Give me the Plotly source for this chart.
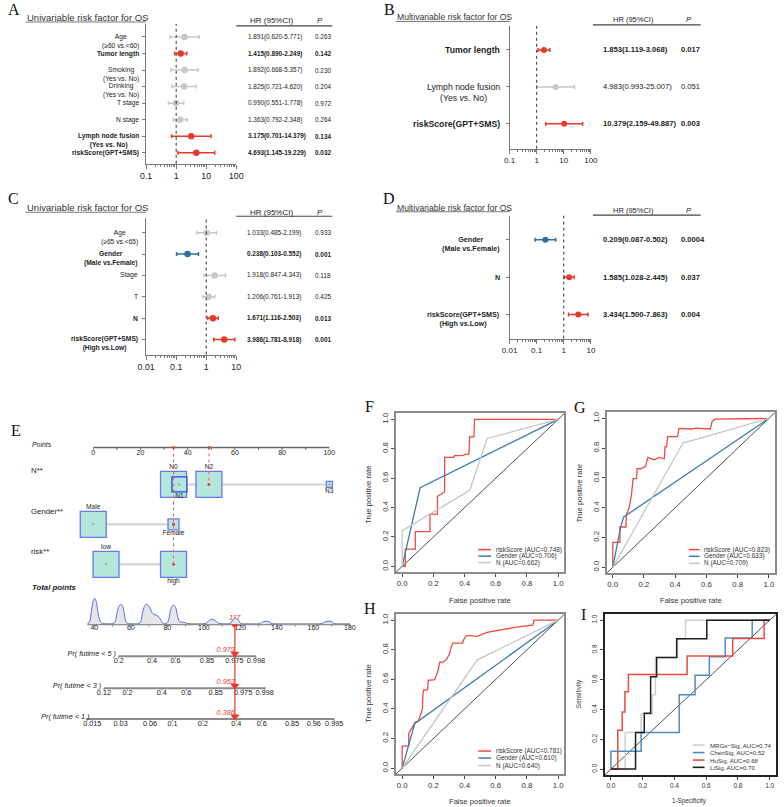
import math
import plotly.graph_objects as go

W, H = 784, 807
SANS = "Arial, Liberation Sans, Helvetica, sans-serif"
SERIF = "Times New Roman, Liberation Serif, Times, serif"

# ====================== DATA ======================
# Panel A - univariable (cohort 1)
A_labels = ["Age", "Tumor length", "Smoking", "Drinking", "T stage", "N stage",
            "Lymph node fusion", "riskScore(GPT+SMS)"]
A_sub = ["(≥60 vs.<60)", "", "(Yes vs. No)", "(Yes vs. No)", "", "", "(Yes vs. No)", ""]
A_hr = [1.891, 1.415, 1.892, 1.825, 0.990, 1.363, 3.175, 4.693]
A_lo = [0.620, 0.890, 0.668, 0.721, 0.551, 0.792, 0.701, 1.145]
A_hi = [5.771, 2.249, 5.357, 4.620, 1.778, 2.348, 14.379, 19.229]
A_p = ["0.263", "0.142", "0.230", "0.204", "0.972", "0.264", "0.134", "0.032"]
A_kind = ["gray", "red", "gray", "gray", "gray", "gray", "red", "red"]
A_ticks = [0.1, 1, 10, 100]

# Panel B - multivariable (cohort 1)
B_labels = ["Tumor length", "Lymph node fusion", "riskScore(GPT+SMS)"]
B_sub = ["", "(Yes <i>vs.</i> No)", ""]
B_hr = [1.853, 4.983, 10.379]
B_lo = [1.119, 0.993, 2.159]
B_hi = [3.068, 25.007, 49.887]
B_p = ["0.017", "0.051", "0.003"]
B_kind = ["red", "gray", "red"]
B_ticks = [0.1, 1, 10, 100]

# Panel C - univariable (cohort 2)
C_labels = ["Age", "Gender", "Stage", "T", "N", "riskScore(GPT+SMS)"]
C_sub = ["(≥65 vs.<65)", "(Male vs.Female)", "", "", "", "(High vs.Low)"]
C_hr = [1.033, 0.238, 1.918, 1.206, 1.671, 3.986]
C_lo = [0.485, 0.103, 0.847, 0.761, 1.116, 1.781]
C_hi = [2.199, 0.552, 4.343, 1.913, 2.503, 8.918]
C_p = ["0.933", "0.001", "0.118", "0.425", "0.013", "0.001"]
C_kind = ["gray", "blue", "gray", "gray", "red", "red"]
C_ticks = [0.01, 0.1, 1, 10]

# Panel D - multivariable (cohort 2)
D_labels = ["Gender", "N", "riskScore(GPT+SMS)"]
D_sub = ["(Male vs.Female)", "", "(High vs.Low)"]
D_hr = [0.209, 1.585, 3.434]
D_lo = [0.087, 1.028, 1.500]
D_hi = [0.502, 2.445, 7.863]
D_p = ["0.0004", "0.037", "0.004"]
D_kind = ["blue", "red", "red"]
D_ticks = [0.01, 0.1, 1, 10]

# Panel E - nomogram
PTS_ticks = [0, 10, 20, 30, 40, 50, 60, 70, 80, 90, 100]
PTS_labels = ["0", "", "20", "", "40", "", "60", "", "80", "", "100"]
N_levels = ["N0", "N1", "N2", "N3"]
N_points = [34.0, 36.5, 49.0, 100.0]
G_levels = ["Male", "Female"]
G_points = [0.0, 34.0]
R_levels = ["low", "high"]
R_points = [5.4, 34.0]
SELECTED = ["N2", "Female", "high"]
TOT_ticks = [40, 50, 60, 70, 80, 90, 100, 110, 120, 130, 140, 150, 160, 170, 180]
TOT_labels = ["40", "", "60", "", "80", "", "100", "", "120", "", "140", "", "160", "", "180"]
TOT_axis = [36.2, 180]
DEN_X = [36.5, 37.5, 38.5, 39.5, 40.2, 41, 42, 43, 44.5, 46, 50, 51.5, 52.5, 53.5, 54.5, 55.5,
         56.5, 57.5, 59, 64, 65.5, 66.5, 67.5, 68.5, 69.5, 70.5, 71.5, 72.5, 74, 75.5, 76.5,
         77.5, 79, 80.5, 81.5, 82.5, 83.5, 84.5, 85.5, 86.5, 88, 90, 92, 100, 102, 104, 106,
         108, 110, 114, 115.5, 117, 118.5, 120, 121, 130, 132, 134, 136, 138, 164, 166, 168,
         170, 172, 180]
DEN_H = [0, 3, 14, 24, 26, 23, 12, 4, 0.5, 0, 0, 3, 12, 18, 20, 18,
         10, 2, 0, 0, 3, 12, 18, 20, 19, 16, 12, 10, 9, 7, 4,
         1, 0, 3, 12, 18, 19, 17, 9, 3, 2, 1.5, 0, 0, 2, 5, 4,
         1, 0, 0, 3, 6, 5, 1, 0, 0, 2, 3, 2, 0, 0, 2, 3,
         2.5, 0, 0]
P5_labels = ["0.2", "0.4", "0.6", "0.85", "0.975", "0.998"]
P5_pos = [53.4, 71.6, 84.5, 101.7, 116.7, 128.5]
P3_labels = ["0.12", "0.2", "0.4", "0.6", "0.85", "0.975", "0.998"]
P3_pos = [45.3, 58.2, 77.0, 90.4, 106.5, 121.5, 133.3]
P1_labels = ["0.015", "0.03", "0.06", "0.1", "0.2", "0.4", "0.6", "0.85", "0.96", "0.995"]
P1_pos = [38.9, 54.4, 70.5, 82.9, 99.5, 117.8, 131.7, 148.3, 160.2, 171.4]
P_axis_start = [53.4, 45.3, 35.5]
P_axis_end = [128.5, 133.9, 171.4]
P_names = ["Pr( futime < 5 )", "Pr( futime < 3 )", "Pr( futime < 1 )"]
P_pred = ["0.979", "0.953", "0.386"]

# Panels F, G, H - ROC curves
ROC_names = ["riskScore", "Gender", "N"]
F_auc = [0.748, 0.706, 0.662]
F_risk_x = [0, 0.02, 0.02, 0.084, 0.084, 0.178, 0.178, 0.226, 0.226, 0.25, 0.266, 0.272, 0.272,
            0.331, 0.335, 0.387, 0.408, 0.428, 0.433, 0.46, 0.464, 1.0]
F_risk_y = [0, 0, 0.117, 0.117, 0.236, 0.236, 0.355, 0.355, 0.476, 0.494, 0.506, 0.506, 0.742,
            0.742, 0.753, 0.753, 0.764, 0.764, 0.881, 0.881, 1.0, 1.0]
F_gen_x = [0, 0.115, 1.0]
F_gen_y = [0, 0.535, 1.0]
F_n_x = [0, 0, 0.433, 0.544, 1.0]
F_n_y = [0, 0.243, 0.517, 0.87, 1.0]

G_auc = [0.823, 0.633, 0.709]
G_risk_x = [0, 0, 0.046, 0.046, 0.084, 0.088, 0.105, 0.12, 0.13, 0.152, 0.156, 0.18, 0.21, 0.225,
            0.267, 0.295, 0.33, 0.335, 0.345, 0.352, 0.415, 0.425, 0.51, 0.53, 0.625, 0.636, 0.653, 1.0]
G_risk_y = [0, 0.167, 0.167, 0.271, 0.271, 0.355, 0.4, 0.489, 0.596, 0.596, 0.662, 0.662, 0.678,
            0.738, 0.722, 0.738, 0.729, 0.81, 0.81, 0.878, 0.878, 0.933, 0.929, 0.935, 0.929, 0.978,
            0.995, 1.0]
G_gen_x = [0, 0.05, 0.07, 1.0]
G_gen_y = [0, 0.27, 0.338, 1.0]
G_n_x = [0, 0.45, 1.0]
G_n_y = [0, 0.835, 1.0]

H_auc = [0.781, 0.610, 0.640]
H_risk_x = [0, 0, 0.042, 0.042, 0.067, 0.084, 0.105, 0.13, 0.132, 0.136, 0.163, 0.167, 0.209, 0.23,
            0.24, 0.262, 0.283, 0.303, 0.314, 0.324, 0.387, 0.397, 0.414, 0.48, 0.544, 0.607, 0.732,
            0.837, 0.845, 1.0]
H_risk_y = [0, 0.148, 0.148, 0.234, 0.28, 0.312, 0.32, 0.4, 0.48, 0.526, 0.53, 0.593, 0.598, 0.66,
            0.717, 0.717, 0.733, 0.771, 0.818, 0.845, 0.845, 0.874, 0.897, 0.89, 0.917, 0.93, 0.953,
            0.966, 1.0, 1.0]
H_gen_x = [0, 0.031, 0.08, 1.0]
H_gen_y = [0, 0.121, 0.3, 1.0]
H_n_x = [0, 0.48, 1.0]
H_n_y = [0, 0.73, 1.0]

# Panel I - signature comparison
I_names = ["MRGs−Sig", "ChenSig", "HuSig", "LiSig"]
I_auc = [0.74, 0.52, 0.68, 0.70]
I_mrg_x = [0, 0.09, 0.09, 0.19, 0.19, 0.26, 0.26, 0.28, 0.28, 0.42, 0.42, 0.47, 0.47, 1.0]
I_mrg_y = [0, 0, 0.245, 0.245, 0.37, 0.37, 0.5, 0.5, 0.75, 0.75, 0.875, 0.875, 1.0, 1.0]
I_chen_x = [0, 0, 0.19, 0.19, 0.43, 0.43, 0.53, 0.53, 0.62, 0.62, 0.72, 0.72, 0.89, 0.89, 1.0]
I_chen_y = [0, 0.12, 0.12, 0.245, 0.245, 0.5, 0.5, 0.63, 0.63, 0.755, 0.755, 0.88, 0.88, 1.0, 1.0]
I_hu_x = [0, 0.043, 0.043, 0.071, 0.071, 0.088, 0.088, 0.11, 0.11, 0.48, 0.48, 0.767, 0.767,
          0.965, 0.965, 1.0]
I_hu_y = [0, 0, 0.26, 0.26, 0.384, 0.384, 0.52, 0.52, 0.636, 0.636, 0.76, 0.76, 0.877, 0.877, 1.0, 1.0]
I_li_x = [0, 0.155, 0.155, 0.21, 0.21, 0.25, 0.25, 0.288, 0.288, 0.414, 0.414, 0.604, 0.604, 1.0]
I_li_y = [0, 0, 0.245, 0.245, 0.375, 0.375, 0.62, 0.62, 0.75, 0.75, 0.875, 0.875, 1.0, 1.0]

# ====================== STYLE ======================
RED = "#E8392D"
BLUE = "#2E6F9E"
LGRAY = "#C8C8C8"
AXC = "#7a7a7a"
TXT = "#222222"
KIND_COLOR = {"red": RED, "blue": BLUE, "gray": LGRAY}
ROC_RED = "#EE4A3E"
ROC_BLUE = "#3A7DB3"
ROC_GRAY = "#C6C6C6"
BOX_FILL = "#B4E6DC"
BOX_LINE = "#6A78EE"

fig = go.Figure()
axes = {}
ann = []
shp = []
cnt = [0]


def PX(p):
    return p / W


def PY(p):
    return 1 - p / H


def new_axes(xpx, ypx, xo, yo):
    cnt[0] += 1
    s = "" if cnt[0] == 1 else str(cnt[0])
    base = dict(showgrid=False, zeroline=False, fixedrange=True)
    xa = dict(base, domain=[PX(xpx[0]), PX(xpx[1])], anchor="y" + s)
    xa.update(xo)
    ya = dict(base, domain=[PY(ypx[1]), PY(ypx[0])], anchor="x" + s)
    ya.update(yo)
    axes["xaxis" + s] = xa
    axes["yaxis" + s] = ya
    return "x" + s, "y" + s


def text(x, y, s, size, color=TXT, xanchor="center", yanchor="middle", family=SANS,
         xref="paper", yref="paper", angle=0, yshift=0, align="center"):
    ann.append(dict(x=PX(x) if xref == "paper" else x, y=PY(y) if yref == "paper" else y,
                    xref=xref, yref=yref, text=s, showarrow=False, textangle=angle,
                    font=dict(size=size, color=color, family=family),
                    xanchor=xanchor, yanchor=yanchor, yshift=yshift, align=align, borderpad=0))


def pline(x0, y0, x1, y1, color, width=1.0, dash=None):
    shp.append(dict(type="line", xref="paper", yref="paper", x0=PX(x0), y0=PY(y0),
                    x1=PX(x1), y1=PY(y1), line=dict(color=color, width=width, dash=dash)))


def lines(xs, ys, xa, ya, color, width, dash=None, shape="linear", fill=None, fillcolor=None):
    fig.add_trace(go.Scatter(x=xs, y=ys, xaxis=xa, yaxis=ya, mode="lines",
                             line=dict(color=color, width=width, dash=dash, shape=shape),
                             fill=fill, fillcolor=fillcolor, hoverinfo="skip", showlegend=False))


def texts(xs, ys, ts, xa, ya, size, color=TXT, pos="middle center"):
    fig.add_trace(go.Scatter(x=xs, y=ys, xaxis=xa, yaxis=ya, mode="text", text=ts,
                             textposition=pos, textfont=dict(size=size, color=color, family=SANS),
                             cliponaxis=False, hoverinfo="skip", showlegend=False))


# ====================== FOREST PLOTS ======================
def forest(labels, subs, hr, lo, hi, pv, kind, ticks, title, L):
    n = len(labels)
    minor = [t * k for t in ticks[:-1] for k in range(2, 10)]
    yr_bot = (L["bot"] - L["row0"]) / L["step"]
    yr_top = (L["top"] - L["row0"]) / L["step"]
    xr, yr = new_axes(
        (L["x0"], L["x1"]), (L["top"], L["bot"]),
        dict(type="log", range=[math.log10(ticks[0]), math.log10(ticks[-1])], tickmode="array",
             tickvals=ticks, ticktext=[f"{t:g}" for t in ticks], ticks="outside", ticklen=4,
             tickcolor=AXC, tickwidth=1, showline=True, linecolor=AXC, linewidth=1,
             tickfont=dict(size=L["tick_font"], family=SANS, color=TXT),
             minor=dict(tickmode="array", tickvals=minor, ticks="outside", ticklen=2,
                        tickcolor=AXC, tickwidth=1)),
        dict(range=[yr_bot, yr_top], tickmode="array", tickvals=list(range(n)),
             ticktext=[""] * n, ticks="outside", ticklen=3, tickcolor=AXC, showline=True,
             linecolor=AXC, linewidth=1, showticklabels=False))
    shp.append(dict(type="line", xref=xr, yref=yr + " domain", x0=1, x1=1, y0=0, y1=1,
                    line=dict(color="#333", width=1, dash="dot")))
    for i in range(n):
        c = KIND_COLOR[kind[i]]
        fig.add_trace(go.Scatter(
            x=[hr[i]], y=[i], xaxis=xr, yaxis=yr, mode="markers",
            marker=dict(color=c, size=L["dot"]),
            error_x=dict(type="data", symmetric=False, array=[hi[i] - hr[i]],
                         arrayminus=[hr[i] - lo[i]], color=c, thickness=1.5, width=2),
            hoverinfo="skip", showlegend=False, cliponaxis=False))
        bold = kind[i] != "gray"
        b0, b1 = ("<b>", "</b>") if bold else ("", "")
        s = b0 + labels[i] + b1
        ysh = 0
        if subs[i]:
            s += "<br>" + b0 + subs[i] + b1
            ysh = -0.65 * L["lab_font"]
        ann.append(dict(x=PX(L["lab_x"]), y=i, xref="paper", yref=yr, text=s, showarrow=False,
                        font=dict(size=L["lab_font"], color=TXT, family=SANS), xanchor="right",
                        yanchor="middle", align="center", yshift=ysh, borderpad=0))
        hrtxt = f"{hr[i]:.3f}({lo[i]:.3f}-{hi[i]:.3f})"
        for xx, tt in ((L["val_x"], hrtxt), (L["p_x"], pv[i])):
            ann.append(dict(x=PX(xx), y=i, xref="paper", yref=yr, text=b0 + tt + b1,
                            showarrow=False, font=dict(size=L["tab_font"], color=TXT, family=SANS),
                            xanchor="left", yanchor="middle", borderpad=0))
    text(L["hdr_hr_x"], L["hdr_y"], "HR (95%CI)", L["hdr_font"])
    text(L["hdr_p_x"], L["hdr_y"], "<i>P</i>", L["hdr_font"])
    pline(L["hline"][0], L["hline"][2], L["hline"][1], L["hline"][2], "#444", 1.2)
    text(L["title_x"], L["title_y"], title, L["title_font"], color="#333", xanchor="left")
    pline(L["ul"][0], L["ul"][2], L["ul"][1], L["ul"][2], "#555", 0.8)


LA = dict(x0=140, x1=232, top=23, bot=163, row0=36, step=16.57, lab_x=134, lab_font=6.7,
          val_x=243, p_x=311, tab_font=6.4, hdr_y=20, hdr_hr_x=268, hdr_p_x=317, hdr_font=8,
          hline=(232, 330, 25), title_x=17, title_y=16.5, title_font=9.5, ul=(17, 140, 21),
          tick_font=8.8, dot=6.5)
LB = dict(x0=511, x1=594, top=25, bot=148, row0=49, step=37, lab_x=502, lab_font=8.7,
          val_x=605, p_x=685, tab_font=7.6, hdr_y=19, hdr_hr_x=637, hdr_p_x=694, hdr_font=7.5,
          hline=(596, 706, 24), title_x=395, title_y=16, title_font=8.6, ul=(395, 511, 20.5),
          tick_font=8, dot=6)
LC = dict(x0=140, x1=232, top=217, bot=354, row0=232, step=21.4, lab_x=133, lab_font=6.7,
          val_x=242, p_x=311, tab_font=6.4, hdr_y=211.5, hdr_hr_x=268, hdr_p_x=317, hdr_font=8,
          hline=(232, 330, 215.5), title_x=17, title_y=207, title_font=9.5, ul=(17, 140, 211.5),
          tick_font=8.8, dot=6.5)
LD = dict(x0=511, x1=594, top=215, bot=338, row0=239, step=37.5, lab_x=502, lab_font=7.2,
          val_x=605, p_x=685, tab_font=7.6, hdr_y=210, hdr_hr_x=637, hdr_p_x=694, hdr_font=7.5,
          hline=(596, 706, 214.3), title_x=395, title_y=207, title_font=8.6, ul=(395, 511, 211),
          tick_font=8, dot=6)

forest(A_labels, A_sub, A_hr, A_lo, A_hi, A_p, A_kind, A_ticks, "Univariable risk factor for OS", LA)
forest(B_labels, B_sub, B_hr, B_lo, B_hi, B_p, B_kind, B_ticks, "Multivariable risk factor for OS", LB)
forest(C_labels, C_sub, C_hr, C_lo, C_hi, C_p, C_kind, C_ticks, "Univariable risk factor for OS", LC)
forest(D_labels, D_sub, D_hr, D_lo, D_hi, D_p, D_kind, D_ticks, "Multivariable risk factor for OS", LD)

# ====================== NOMOGRAM (E) ======================
xP, yE = new_axes((86, 327), (0, H), dict(range=[0, 100], visible=False),
                  dict(range=[H, 0], visible=False))
TOT_PX = (80, 348)
sc = (TOT_PX[1] - TOT_PX[0]) / (TOT_axis[1] - TOT_axis[0])
WIDE = (20, 380)
xT, yD = new_axes(WIDE, (596, 624),
                  dict(range=[TOT_axis[0] - (TOT_PX[0] - WIDE[0]) / sc,
                              TOT_axis[0] + (WIDE[1] - TOT_PX[0]) / sc], visible=False),
                  dict(range=[0, 28], visible=False))

# points axis
PTS_Y = 447
lines([PTS_ticks[0], PTS_ticks[-1]], [PTS_Y, PTS_Y], xP, yE, "#666", 1.4)
tx, ty = [], []
for v in PTS_ticks:
    tx += [v, v, None]
    ty += [PTS_Y, PTS_Y + 2.5, None]
lines(tx, ty, xP, yE, "#666", 1)
texts(PTS_ticks, [PTS_Y + 5.5] * len(PTS_ticks), PTS_labels, xP, yE, 7)
text(22, 444, "<i>Points</i>", 6.9, xanchor="left")

rows = [("N**", N_levels, N_points, [26, 15, 26, 6], [-1, 1, -1, 1], 484, 470),
        ("Gender**", G_levels, G_points, [26, 11], [-1, 1], 524, 511),
        ("risk**", R_levels, R_points, [26, 26], [-1, 1], 564, 551)]
sel_pts = {}
for lab, levs, pts, sizes, sides, ry, ly in rows:
    text(21, ly, lab, 7.8, xanchor="left")
    lines([min(pts), max(pts)], [ry, ry], xP, yE, "#DADADA", 2.5)
    for lv, p, sz, sd in zip(levs, pts, sizes, sides):
        lc = "#3045DD" if lv == "N1" else BOX_LINE
        fig.add_trace(go.Scatter(x=[p], y=[ry], xaxis=xP, yaxis=yE, mode="markers",
                                 marker=dict(symbol="square", size=sz, color=BOX_FILL,
                                             line=dict(color=lc, width=1.3)),
                                 cliponaxis=False, hoverinfo="skip", showlegend=False))
        is_sel = lv in SELECTED
        fig.add_trace(go.Scatter(x=[p], y=[ry], xaxis=xP, yaxis=yE, mode="markers",
                                 marker=dict(size=3 if is_sel else 2,
                                             color=RED if is_sel else "#999"),
                                 cliponaxis=False, hoverinfo="skip", showlegend=False))
        texts([p], [ry + sd * (sz / 2 + 4)], [lv], xP, yE, 6.6)
        if is_sel:
            sel_pts.setdefault(p, []).append(ry)

for p, rys in sel_pts.items():
    lines([p, p], [PTS_Y, max(rys)], xP, yE, "#F06060", 1, dash="dot")
    fig.add_trace(go.Scatter(x=[p], y=[PTS_Y], xaxis=xP, yaxis=yE, mode="markers",
                             marker=dict(size=3, color=RED), cliponaxis=False,
                             hoverinfo="skip", showlegend=False))

TOTAL = sum(p * len(r) for p, r in sel_pts.items())

# total points axis + density
TOT_Y = 624
text(22, 587, "<b><i>Total points</i></b>", 7.8, xanchor="left")
lines(DEN_X, DEN_H, xT, yD, "#5A6BE6", 1, shape="spline", fill="tozeroy", fillcolor="#E6E6E6")
lines(TOT_axis, [TOT_Y, TOT_Y], xT, yE, "#8A8A8A", 2)
tx, ty = [], []
for v in TOT_ticks:
    tx += [v, v, None]
    ty += [TOT_Y, TOT_Y + 2.5, None]
lines(tx, ty, xT, yE, "#8A8A8A", 1)
texts(TOT_ticks, [TOT_Y + 4.5] * len(TOT_ticks), TOT_labels, xT, yE, 7)

# probability axes
P_Y = [656, 688, 719]
P_sets = [(P5_labels, P5_pos), (P3_labels, P3_pos), (P1_labels, P1_pos)]
for (labs, pos), py, a0, a1, nm, pred in zip(P_sets, P_Y, P_axis_start, P_axis_end, P_names, P_pred):
    lines([a0, a1], [py, py], xT, yE, "#8A8A8A", 2)
    tx, ty = [], []
    for v in pos:
        tx += [v, v, None]
        ty += [py, py + 2.5, None]
    lines(tx, ty, xT, yE, "#8A8A8A", 1)
    texts(pos, [py + 5.5] * len(pos), labs, xT, yE, 7.3)
    texts([pos[0] - 1.5], [py - 2], ["<i>" + nm + "</i>"], xT, yE, 7.3, pos="middle left")
    texts([TOTAL], [py - 6], ["<i>" + pred + "</i>"], xT, yE, 7.3, color=RED, pos="middle left")

lines([TOTAL, TOTAL], [TOT_Y, P_Y[-1]], xT, yE, RED, 1.2)
fig.add_trace(go.Scatter(x=[TOTAL] * 3, y=[py - 2.5 for py in P_Y], xaxis=xT, yaxis=yE,
                         mode="markers", marker=dict(symbol="triangle-down", size=8, color=RED),
                         cliponaxis=False, hoverinfo="skip", showlegend=False))
fig.add_trace(go.Scatter(x=[TOTAL], y=[TOT_Y], xaxis=xT, yaxis=yE, mode="markers",
                         marker=dict(size=6, color=RED), cliponaxis=False,
                         hoverinfo="skip", showlegend=False))
texts([TOTAL], [TOT_Y - 5.5], [f"<i>{TOTAL:.0f}</i>"], xT, yE, 7, color=RED)


# ====================== ROC PANELS ======================
def roc(curves, xpx, ypx, frame_color, tick_font, lw):
    tk = [0, 0.2, 0.4, 0.6, 0.8, 1.0]
    ax = dict(range=[-0.04, 1.04], tickmode="array", tickvals=tk,
              ticktext=[f"{t:.1f}" for t in tk], ticks="outside", ticklen=3, tickcolor="#444",
              tickwidth=1, showline=True, mirror=True, linecolor=frame_color, linewidth=1.5,
              tickfont=dict(size=tick_font, family=SANS, color="#333"))
    xr, yr = new_axes(xpx, ypx, dict(ax), dict(ax, tickangle=-90))
    lines([-0.04, 1.04], [-0.04, 1.04], xr, yr, "#222", 0.8)
    for xs, ys, col in curves:
        lines(xs, ys, xr, yr, col, lw)


def legend(items, lx0, lx1, tx, ys, size, lw):
    for (lab, col), y in zip(items, ys):
        pline(lx0, y, lx1, y, col, lw)
        text(tx, y, lab, size, color="#333", xanchor="left")


roc_cols = [ROC_RED, ROC_BLUE, ROC_GRAY]
# F
roc([(F_risk_x, F_risk_y, ROC_RED), (F_gen_x, F_gen_y, ROC_BLUE), (F_n_x, F_n_y, ROC_GRAY)],
    (395, 567), (413, 572), "#8C8C8C", 7.8, 1.3)
legend([(f"{n} (AUC={a:.3f})", c) for n, a, c in zip(ROC_names, F_auc, roc_cols)],
       479, 492, 496, [549.3, 555.8, 562.3], 6.4, 1.5)
text(481, 600, "False positive rate", 7.6, color="#333")
text(367, 495, "True positive rate", 7.6, color="#333", angle=-90)
# G
roc([(G_risk_x, G_risk_y, ROC_RED), (G_gen_x, G_gen_y, ROC_BLUE), (G_n_x, G_n_y, ROC_GRAY)],
    (610, 782), (412, 573), "#8C8C8C", 7.8, 1.3)
legend([(f"{n} (AUC={a:.3f})", c) for n, a, c in zip(ROC_names, G_auc, roc_cols)],
       694, 705, 708, [549.3, 556, 563], 6.4, 1.5)
text(696, 600, "False positive rate", 7.6, color="#333")
text(582, 493, "True positive rate", 7.6, color="#333", angle=-90)
# H
roc([(H_risk_x, H_risk_y, ROC_RED), (H_gen_x, H_gen_y, ROC_BLUE), (H_n_x, H_n_y, ROC_GRAY)],
    (395, 567), (614, 774), "#8C8C8C", 7.8, 1.3)
legend([(f"{n} (AUC={a:.3f})", c) for n, a, c in zip(ROC_names, H_auc, roc_cols)],
       479, 492, 496, [751, 758, 765.5], 6.4, 1.5)
text(481, 801, "False positive rate", 7.6, color="#333")
text(367, 694, "True positive rate", 7.6, color="#333", angle=-90)
# I
I_cols = ["#CFCFCF", "#4B8DBF", "#EE4B3F", "#1E1E1E"]
roc([(I_mrg_x, I_mrg_y, I_cols[0]), (I_chen_x, I_chen_y, I_cols[1]),
     (I_hu_x, I_hu_y, I_cols[2]), (I_li_x, I_li_y, I_cols[3])],
    (608, 783), (614, 775), "#222", 6.5, 1.5)
legend([(f"{n}, AUC={a:.2f}", c) for n, a, c in zip(I_names, I_auc, I_cols)],
       698, 710, 715, [745, 752.5, 760, 767.3], 6.1, 1.6)
text(695, 801, "1-Specificity", 6.3, color="#333")
text(582, 694, "Sensitivity", 6.3, color="#333", angle=-90)

# ====================== PANEL LETTERS ======================
for letter, lx, ly in [("A", 5, 9), ("B", 388, 9), ("C", 5, 198), ("D", 388, 198),
                       ("E", 7, 430), ("F", 368, 406), ("G", 583, 407), ("H", 369, 608),
                       ("I", 586, 614)]:
    text(lx, ly, letter, 16, color="#111", family=SERIF)

fig.update_layout(width=W, height=H, margin=dict(l=0, r=0, t=0, b=0), autosize=False,
                  paper_bgcolor="white", plot_bgcolor="rgba(0,0,0,0)", showlegend=False,
                  hovermode=False, font=dict(family=SANS), annotations=ann, shapes=shp, **axes)
fig.write_html("out.html", config={"displayModeBar": False},
               post_script="document.body.style.margin='0';document.body.style.overflow='hidden';")
